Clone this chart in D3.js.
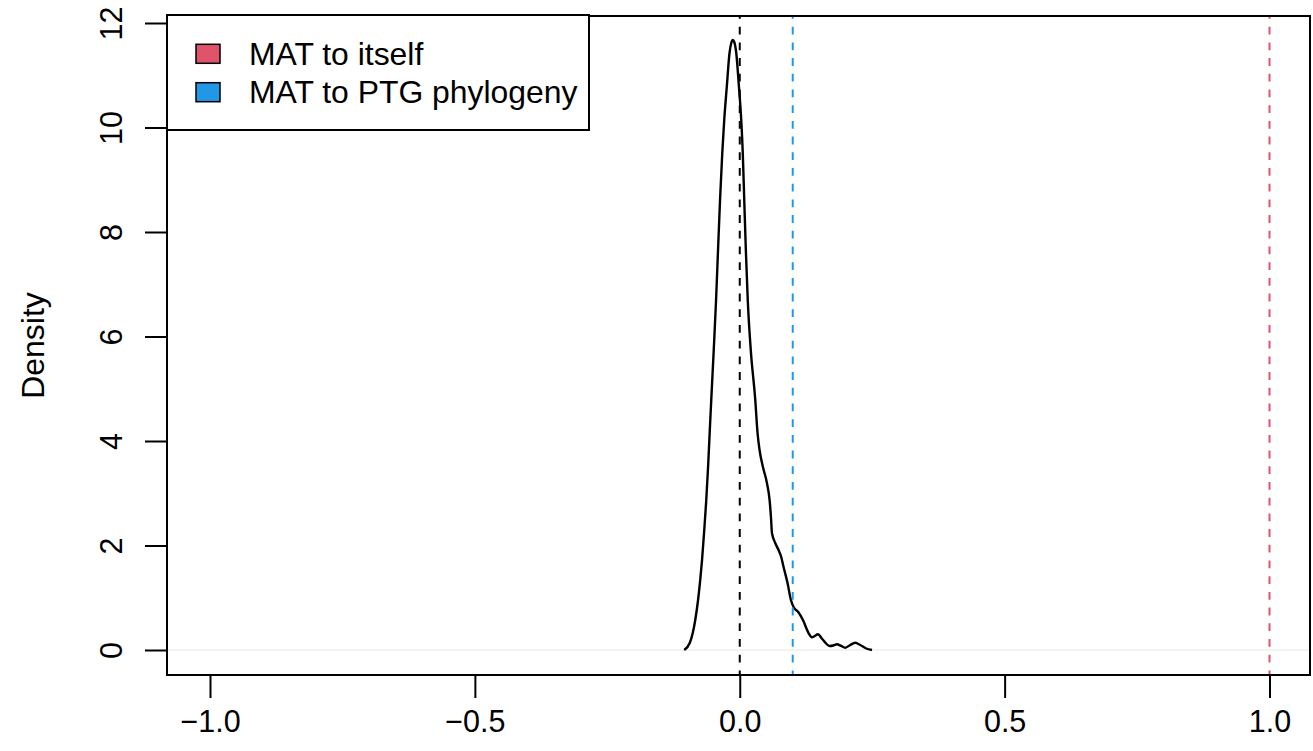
<!DOCTYPE html>
<html>
<head>
<meta charset="utf-8">
<script src="https://cdn.jsdelivr.net/npm/d3@7"></script>
<style>
  html, body { margin: 0; padding: 0; background: #fff; }
  svg { display: block; }
  text { font-family: "Liberation Sans", Arial, Helvetica, sans-serif; fill: #000; }
</style>
</head>
<body>
<svg id="chart" width="1313" height="751"></svg>
<script>
// ---- data ----
const densityX = [-0.1048, -0.0944, -0.0887, -0.0840, -0.0787, -0.0746, -0.0712, -0.0670, -0.0632, -0.0598,
  -0.0568, -0.0538, -0.0491, -0.0447, -0.0410, -0.0372, -0.0330, -0.0293, -0.0245, -0.0193,
  -0.0160, -0.0132, -0.0104, -0.0066, -0.0015, 0.0028, 0.0057, 0.0085, 0.0115, 0.0151,
  0.0208, 0.0293, 0.0336, 0.0374, 0.0438, 0.0513, 0.0563, 0.0589, 0.0608, 0.0670,
  0.0732, 0.0783, 0.0827, 0.0902, 0.0966, 0.1016, 0.1104, 0.1193, 0.1299, 0.1363,
  0.1416, 0.1476, 0.1557, 0.1695, 0.1765, 0.1835, 0.1916, 0.1992, 0.2086, 0.2180,
  0.2275, 0.2388, 0.2496];
const densityY = [0.000, 0.134, 0.325, 0.574, 0.957, 1.340, 1.722, 2.297, 2.871, 3.502,
  4.153, 4.785, 5.742, 6.699, 7.656, 8.612, 9.512, 10.144, 10.775, 11.426,
  11.617, 11.675, 11.636, 11.426, 10.775, 10.144, 9.512, 8.612, 7.656, 6.699,
  5.742, 4.785, 4.153, 3.828, 3.502, 3.196, 2.871, 2.545, 2.239, 2.048,
  1.914, 1.780, 1.589, 1.282, 0.957, 0.823, 0.727, 0.574, 0.325, 0.243,
  0.268, 0.301, 0.210, 0.077, 0.086, 0.109, 0.077, 0.044, 0.096, 0.139,
  0.096, 0.029, 0.000];

const refValues = [0.0, 0.1, 1.0];          // vertical dashed reference lines
const refColors = ["#000000", "#2297E6", "#DF536B"];

const legendLabels = ["MAT to itself", "MAT to PTG phylogeny"];
const legendColors = ["#DF536B", "#2297E6"];

const xTicks = [-1.0, -0.5, 0.0, 0.5, 1.0];
const yTicks = [0, 2, 4, 6, 8, 10, 12];
const yLabel = "Density";

// ---- layout ----
const box = { left: 167, right: 1310, top: 16, bottom: 675 };
const x = d3.scaleLinear().domain([-1, 1]).range([210, 1269.5]);
const y = d3.scaleLinear().domain([0, 12]).range([650, 23]);

const svg = d3.select("#chart");
const fontSize = 30.5;

// zero line
svg.append("line")
  .attr("x1", box.left).attr("x2", box.right)
  .attr("y1", y(0)).attr("y2", y(0))
  .attr("stroke", "#e6e6e6").attr("stroke-width", 1);

// density curve
const pts = densityX.map((d, i) => [d, densityY[i]]);
svg.append("path")
  .datum(pts)
  .attr("fill", "none")
  .attr("stroke", "#000")
  .attr("stroke-width", 2.4)
  .attr("stroke-linejoin", "round")
  .attr("d", d3.line().x(d => x(d[0])).y(d => y(d[1])).curve(d3.curveMonotoneX));

// reference dashed lines
refValues.forEach((v, i) => {
  svg.append("line")
    .attr("x1", x(v)).attr("x2", x(v))
    .attr("y1", box.top).attr("y2", box.bottom)
    .attr("stroke", refColors[i])
    .attr("stroke-width", 2)
    .attr("stroke-dasharray", "7.8,7.9")
    .attr("stroke-dashoffset", 5);
});

// plot box
svg.append("rect")
  .attr("x", box.left).attr("y", box.top)
  .attr("width", box.right - box.left).attr("height", box.bottom - box.top)
  .attr("fill", "none").attr("stroke", "#000").attr("stroke-width", 2);

// x axis
const fmt = v => (v < 0 ? "\u2212" : "") + Math.abs(v).toFixed(1);
const xAxis = d3.axisBottom(x).tickValues(xTicks).tickFormat(fmt).tickSize(23).tickPadding(12);
const gx = svg.append("g").attr("transform", `translate(0,${box.bottom})`).call(xAxis);
gx.select(".domain").remove();
gx.selectAll(".tick line").attr("stroke", "#000").attr("stroke-width", 2);
gx.selectAll(".tick text").attr("font-size", fontSize).attr("font-family", "Liberation Sans, Arial, sans-serif").attr("fill", "#000");

// y axis
const yAxis = d3.axisLeft(y).tickValues(yTicks).tickFormat(d3.format("d")).tickSize(22).tickPadding(0);
const gy = svg.append("g").attr("transform", `translate(${box.left},0)`).call(yAxis);
gy.select(".domain").remove();
gy.selectAll(".tick line").attr("stroke", "#000").attr("stroke-width", 2);
gy.selectAll(".tick text")
  .attr("font-size", fontSize).attr("font-family", "Liberation Sans, Arial, sans-serif").attr("fill", "#000")
  .attr("x", null).attr("y", 0).attr("dy", "0")
  .attr("text-anchor", "middle")
  .attr("transform", "translate(-45,0) rotate(-90)");

// y label
svg.append("text")
  .attr("transform", `translate(44,${(box.top + box.bottom) / 2}) rotate(-90)`)
  .attr("text-anchor", "middle")
  .attr("font-size", 32)
  .text(yLabel);

// legend
const lg = svg.append("g");
lg.append("rect")
  .attr("x", 167).attr("y", 15).attr("width", 422).attr("height", 115)
  .attr("fill", "#fff").attr("stroke", "#000").attr("stroke-width", 2);
legendLabels.forEach((lab, i) => {
  const cy = 53.8 + i * 38.4;
  lg.append("rect")
    .attr("x", 196).attr("y", cy - 9.5).attr("width", 24).attr("height", 19)
    .attr("fill", legendColors[i]).attr("stroke", "#000").attr("stroke-width", 1.5);
  lg.append("text")
    .attr("x", 249).attr("y", cy + 11)
    .attr("font-size", 31.9)
    .text(lab);
});
</script>
</body>
</html>
